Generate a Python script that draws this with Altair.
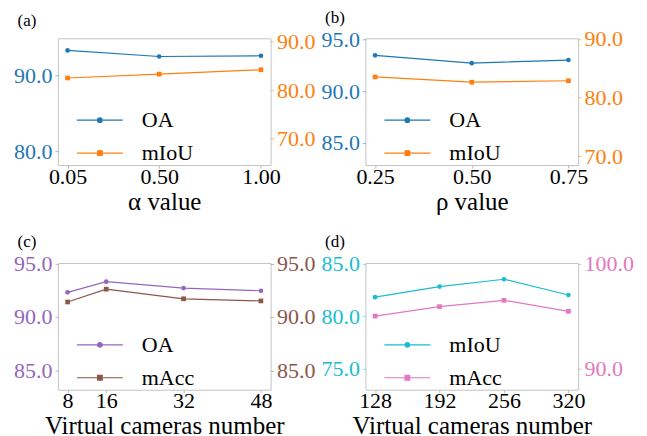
import altair as alt
import pandas as pd

FONT = "'Liberation Serif', 'Times New Roman', Times, serif"

# ---- data ----
a_labels = ["OA", "mIoU"]
a_x = [0.05, 0.50, 1.00]
a_oa = [93.3, 92.5, 92.6]
a_miou = [82.5, 83.3, 84.2]

b_labels = ["OA", "mIoU"]
b_x = [0.25, 0.50, 0.75]
b_oa = [93.45, 92.7, 93.0]
b_miou = [83.5, 82.6, 82.85]

c_labels = ["OA", "mAcc"]
c_x = [8, 16, 32, 48]
c_oa = [92.3, 93.3, 92.7, 92.45]
c_macc = [91.4, 92.6, 91.7, 91.5]

d_labels = ["mIoU", "mAcc"]
d_x = [128, 192, 256, 320]
d_miou = [81.8, 82.8, 83.5, 82.0]
d_macc = [95.0, 95.9, 96.5, 95.45]

# legend symbols: a line with a marker in the middle
PATH_CIRCLE = "M-3,0L3,0M-0.3,0A0.3,0.3,0,1,0,0.3,0A0.3,0.3,0,1,0,-0.3,0Z"
PATH_SQUARE = "M-3,0L3,0M-0.3,-0.3L0.3,-0.3L0.3,0.3L-0.3,0.3Z"

W, H = 213, 127


def panel(tag, xs, xdomain, xticks, xfmt, xtitle,
          n1, v1, c1, dom1, ticks1,
          n2, v2, c2, dom2, ticks2):
    df = pd.DataFrame({"x": xs, "v1": v1, "v2": v2})
    base = alt.Chart(df)
    xenc = alt.X("x:Q",
                 scale=alt.Scale(domain=xdomain, nice=False, zero=False),
                 axis=alt.Axis(values=xticks, format=xfmt, title=xtitle,
                               labelColor="black", tickColor="#bbbbbb",
                               labelPadding=-2, titlePadding=2))

    def yaxis(orient, color, ticks):
        return alt.Axis(orient=orient, values=ticks, format=".1f", title=None,
                        labelColor=color, tickColor=color, tickOpacity=0.5,
                        labelPadding=3)

    left = base.mark_line(
        color=c1, strokeWidth=1.2,
        point=alt.OverlayMarkDef(filled=True, shape="circle", size=22,
                                 color=c1, opacity=1)
    ).encode(
        x=xenc,
        y=alt.Y("v1:Q", scale=alt.Scale(domain=dom1, nice=False, zero=False),
                axis=yaxis("left", c1, ticks1)),
    )
    right = base.mark_line(
        color=c2, strokeWidth=1.2,
        point=alt.OverlayMarkDef(filled=True, shape="square", size=22,
                                 color=c2, opacity=1)
    ).encode(
        x=xenc,
        y=alt.Y("v2:Q", scale=alt.Scale(domain=dom2, nice=False, zero=False),
                axis=yaxis("right", c2, ticks2)),
    )

    leg = alt.Legend(orient="none", legendX=31, legendY=71, title=None,
                     labelFont=FONT, labelFontSize=22, labelColor="black",
                     labelOffset=31, rowPadding=11, padding=0,
                     symbolSize=235, symbolStrokeWidth=1.2, symbolOpacity=1)
    ldf = pd.DataFrame({"series": [n1, n2]})
    legend_layer = alt.Chart(ldf).transform_filter("false").mark_point(
        filled=True, size=235, strokeWidth=1.2, opacity=1
    ).encode(
        fill=alt.Fill("series:N", scale=alt.Scale(domain=[n1, n2], range=[c1, c2]), legend=leg),
        stroke=alt.Stroke("series:N", scale=alt.Scale(domain=[n1, n2], range=[c1, c2]), legend=leg),
        shape=alt.Shape("series:N", scale=alt.Scale(domain=[n1, n2], range=[PATH_CIRCLE, PATH_SQUARE]), legend=leg),
    )

    return alt.layer(left, right, legend_layer).resolve_scale(y="independent").properties(
        width=W, height=H,
        title=alt.TitleParams(tag, anchor="start", frame="bounds", fontSize=17,
                              font=FONT, fontWeight="normal", color="black",
                              offset=1, dx=4),
    )


BLUE, ORANGE = "#1f77b4", "#ff7f0e"
PURPLE, BROWN = "#9467bd", "#8c564b"
CYAN, PINK = "#17becf", "#e377c2"

pa = panel("(a)", a_x, [0.0025, 1.0475], [0.05, 0.5, 1.0], ".2f", "α value",
           a_labels[0], a_oa, BLUE, [78.2, 94.9], [80, 90],
           a_labels[1], a_miou, ORANGE, [64.5, 90.7], [70, 80, 90])
pb = panel("(b)", b_x, [0.225, 0.775], [0.25, 0.5, 0.75], ".2f", "ρ value",
           b_labels[0], b_oa, BLUE, [82.85, 95.1], [85, 90, 95],
           b_labels[1], b_miou, ORANGE, [68.45, 90.1], [70, 80, 90])
pc = panel("(c)", c_x, [6, 50], [8, 16, 32, 48], "d", "Virtual cameras number",
           c_labels[0], c_oa, PURPLE, [83.2, 95.05], [85, 90, 95],
           c_labels[1], c_macc, BROWN, [83.2, 95.05], [85, 90, 95])
pd_ = panel("(d)", d_x, [118.4, 329.6], [128, 192, 256, 320], "d", "Virtual cameras number",
            d_labels[0], d_miou, CYAN, [73.0, 85.05], [75, 80, 85],
            d_labels[1], d_macc, PINK, [88.0, 100.05], [90, 100])

IND = dict(fill="independent", stroke="independent", shape="independent",
           x="independent", y="independent")
LIND = dict(fill="independent", stroke="independent", shape="independent")

top = alt.hconcat(pa, pb, spacing=95, bounds="flush").resolve_scale(**IND).resolve_legend(**LIND)
bottom = alt.hconcat(pc, pd_, spacing=95, bounds="flush").resolve_scale(**IND).resolve_legend(**LIND)

chart = alt.vconcat(top, bottom, spacing=H + 98, bounds="flush").resolve_scale(**IND).resolve_legend(
    **LIND
).properties(
    padding={"left": 5, "top": 0, "right": 5, "bottom": 0}
).configure_view(
    stroke="#c4c4c4", strokeWidth=1
).configure_axis(
    labelFont=FONT, labelFontSize=22, titleFont=FONT, titleFontSize=25,
    titleFontWeight="normal", titleColor="black", grid=False, domain=False,
    tickSize=3, labelPadding=2, titlePadding=2
).configure_legend(
    labelFont=FONT
).configure_title(
    font=FONT
)

chart.save("out.html", embed_options={"renderer": "svg", "actions": False})
